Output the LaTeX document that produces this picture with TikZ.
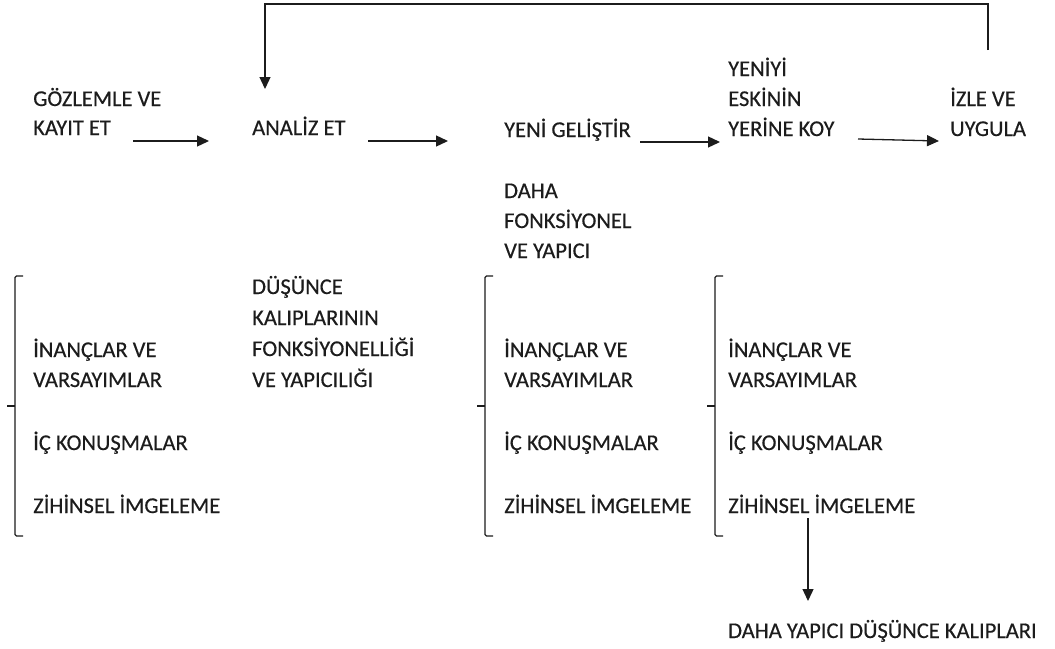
\documentclass[tikz,border=0pt]{standalone}
\usepackage{fontspec}
\setmainfont{Carlito}[FakeBold=0.4]
\usetikzlibrary{arrows.meta}
\definecolor{ink}{RGB}{28,28,28}
\tikzset{
  lbl/.style={anchor=base west, inner sep=0pt, text=ink,
    font=\fontsize{22.5}{27}\selectfont},
  link/.style={draw=ink, line width=1.3pt,
    -{Triangle[length=12pt,width=11pt]}},
  brace/.style={draw=ink, line width=1.3pt, rounded corners=1.5pt},
}
\begin{document}
\begin{tikzpicture}[x=1pt,y=-1pt]
\useasboundingbox (0,0) rectangle (1055,648);

% top row: the steps of the cycle
\node[lbl] (gozlem1) at (33,106) {GÖZLEMLE VE};
\node[lbl] (gozlem2) at (33,135) {KAYIT ET};
\node[lbl] (analiz)  at (252,135) {ANALİZ ET};
\node[lbl] (yeni)    at (504,137) {YENİ GELİŞTİR};
\node[lbl] (koy1)    at (728,76)  {YENİYİ};
\node[lbl] (koy2)    at (728,106) {ESKİNİN};
\node[lbl] (koy3)    at (728,136) {YERİNE KOY};
\node[lbl] (izle1)   at (950,106) {İZLE VE};
\node[lbl] (izle2)   at (950,136) {UYGULA};

% note under "YENİ GELİŞTİR"
\node[lbl] (daha1) at (504,198) {DAHA};
\node[lbl] (daha2) at (504,228) {FONKSİYONEL};
\node[lbl] (daha3) at (504,258) {VE YAPICI};

% note under "ANALİZ ET"
\node[lbl] (dus1) at (252,294) {DÜŞÜNCE};
\node[lbl] (dus2) at (252,325) {KALIPLARININ};
\node[lbl] (dus3) at (252,356) {FONKSİYONELLİĞİ};
\node[lbl] (dus4) at (252,387) {VE YAPICILIĞI};

% three bracketed lists of thought components
\foreach \cx/\nm in {33/a,504/b,728/c}{
  \node[lbl] (inanc\nm) at (\cx,357) {İNANÇLAR VE};
  \node[lbl] (vars\nm)  at (\cx,387) {VARSAYIMLAR};
  \node[lbl] (ic\nm)    at (\cx,450) {İÇ KONUŞMALAR};
  \node[lbl] (zih\nm)   at (\cx,513) {ZİHİNSEL İMGELEME};
}
\foreach \bx in {15,485,715}{
  \draw[brace] (\bx+8,276) -- (\bx,276) -- (\bx,536) -- (\bx+8,536);
  \draw[brace] (\bx,406) -- (\bx-8,406);
}

\node[lbl] (sonuc) at (728,638) {DAHA YAPICI DÜŞÜNCE KALIPLARI};

% arrow end points
\coordinate (a1s) at (133,141);  \coordinate (a1e) at (209,141);
\coordinate (a2s) at (368,141);  \coordinate (a2e) at (448,141);
\coordinate (a3s) at (640,142);  \coordinate (a3e) at (720,142);
\coordinate (a4s) at (858,139);  \coordinate (a4e) at (939,141);
\coordinate (fbs) at (988,50);   \coordinate (fbe) at (265,89);
\coordinate (dns) at (808,518);  \coordinate (dne) at (808,601);

\draw[link] (a1s) -- (a1e);
\draw[link] (a2s) -- (a2e);
\draw[link] (a3s) -- (a3e);
\draw[link] (a4s) -- (a4e);
\draw[link] (fbs) |- (265,4) -- (fbe);
\draw[link] (dns) -- (dne);
\end{tikzpicture}
\end{document}
